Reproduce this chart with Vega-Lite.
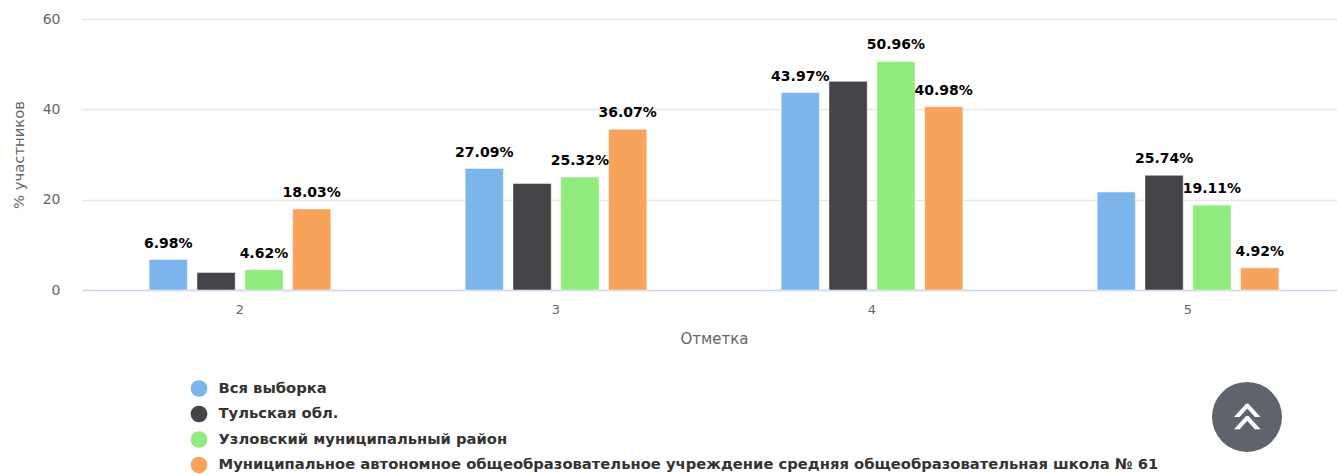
{
"$schema":"https://vega.github.io/schema/vega-lite/v6.json",
"width":1255,"height":271,
"autosize":{"type":"none"},
"padding":{"left":82,"top":19,"right":0,"bottom":185},
"background":"white",
"config":{"view":{"stroke":null},"font":"DejaVu Sans"},
"layer":[
{
"data":{"values":[
{"mark":"2","group":"Вся выборка","value":6.75,"label":"6.98%"},
{"mark":"2","group":"Тульская обл.","value":3.9,"label":""},
{"mark":"2","group":"Узловский муниципальный район","value":4.5,"label":"4.62%"},
{"mark":"2","group":"Муниципальное автономное общеобразовательное учреждение средняя общеобразовательная школа № 61","value":17.95,"label":"18.03%"},
{"mark":"3","group":"Вся выборка","value":26.9,"label":"27.09%"},
{"mark":"3","group":"Тульская обл.","value":23.6,"label":""},
{"mark":"3","group":"Узловский муниципальный район","value":25.0,"label":"25.32%"},
{"mark":"3","group":"Муниципальное автономное общеобразовательное учреждение средняя общеобразовательная школа № 61","value":35.6,"label":"36.07%"},
{"mark":"4","group":"Вся выборка","value":43.7,"label":"43.97%"},
{"mark":"4","group":"Тульская обл.","value":46.2,"label":""},
{"mark":"4","group":"Узловский муниципальный район","value":50.6,"label":"50.96%"},
{"mark":"4","group":"Муниципальное автономное общеобразовательное учреждение средняя общеобразовательная школа № 61","value":40.6,"label":"40.98%"},
{"mark":"5","group":"Вся выборка","value":21.7,"label":""},
{"mark":"5","group":"Тульская обл.","value":25.4,"label":"25.74%"},
{"mark":"5","group":"Узловский муниципальный район","value":18.8,"label":"19.11%"},
{"mark":"5","group":"Муниципальное автономное общеобразовательное учреждение средняя общеобразовательная школа № 61","value":4.9,"label":"4.92%"}
]},
"encoding":{
"x":{"field":"mark","type":"nominal","sort":["2","3","4","5"],
 "scale":{"domain":["2","3","4","5"],"range":[0,1264],"paddingInner":0.425,"paddingOuter":0.2125},
 "axis":{"title":"Отметка","labelAngle":0,"labelFontSize":13,"labelColor":"#666666","labelPadding":13,"titleFontSize":15,"titleColor":"#666666","titleFontWeight":"normal","titlePadding":15,"ticks":false,"domainColor":"#ccd6eb","domainWidth":1.5,"grid":false}},
"y":{"field":"value","type":"quantitative",
 "scale":{"domain":[0,60],"nice":false},
 "axis":{"title":"% участников","values":[0,20,40,60],"labelFontSize":14,"labelColor":"#666666","labelPadding":22,"ticks":false,"domain":false,"gridColor":"#e6e6e6","gridWidth":1.5,"titleFontSize":14.8,"titleColor":"#666666","titleFontWeight":"normal","titlePadding":16}},
"xOffset":{"field":"group","type":"nominal","sort":null,
 "scale":{"domain":["Вся выборка","Тульская обл.","Узловский муниципальный район","Муниципальное автономное общеобразовательное учреждение средняя общеобразовательная школа № 61"],"paddingInner":0.2,"paddingOuter":0}}
},
"layer":[
{"mark":{"type":"bar","stroke":"white","strokeWidth":0.5},
 "encoding":{"color":{"field":"group","type":"nominal",
  "scale":{"domain":["Вся выборка","Тульская обл.","Узловский муниципальный район","Муниципальное автономное общеобразовательное учреждение средняя общеобразовательная школа № 61"],"range":["#7cb5ec","#434348","#90ed7d","#f7a35c"]},
  "legend":{"title":null,"orient":"none","legendX":108.5,"legendY":361,"symbolType":"circle","symbolSize":280,"symbolStrokeWidth":0,"labelFontSize":14.75,"labelFontWeight":"bold","labelColor":"#333333","labelLimit":1100,"rowPadding":8.5,"labelOffset":11,"padding":0}}}},
{"mark":{"type":"text","baseline":"bottom","dy":-9,"fontSize":14,"fontWeight":"bold","color":"#000000"},
 "encoding":{"text":{"field":"label","type":"nominal"}}}
]},
{"data":{"values":[{"control":"scroll to top"}]},
 "mark":{"type":"point","filled":true,"shape":"circle","size":4900,"opacity":1,"color":"#5f636b","xOffset":59},
 "encoding":{"x":{"datum":"5","type":"nominal"},"y":{"datum":-28.1,"type":"quantitative"}}},
{"data":{"values":[{"control":"scroll to top"}]},
 "mark":{"type":"text","text":"«","angle":90,"fontSize":58,"fontWeight":"normal","font":"DejaVu Sans","color":"white","xOffset":59,"baseline":"middle","align":"center"},
 "encoding":{"x":{"datum":"5","type":"nominal"},"y":{"datum":-28.1,"type":"quantitative"}}}
]
}
